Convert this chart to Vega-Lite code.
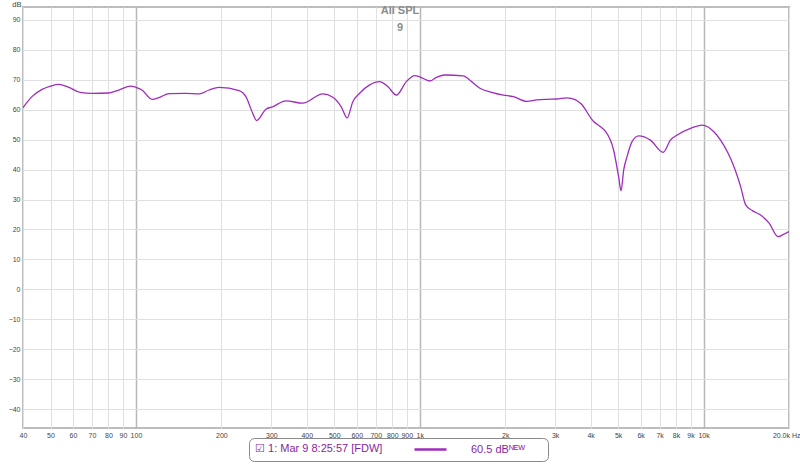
{
  "$schema": "https://vega.github.io/schema/vega-lite/v6.json",
  "width": 766,
  "height": 421,
  "autosize": {"type": "none"},
  "padding": {"left": 23, "top": 7, "right": 11, "bottom": 38},
  "background": "white",
  "config": {
    "view": {"stroke": "#bdbdbd", "strokeWidth": 2},
    "font": "Liberation Sans"
  },
  "title": {
    "text": "All SPL",
    "subtitle": "9",
    "anchor": "middle",
    "frame": "group",
    "offset": -33,
    "dx": -6,
    "font": "Liberation Sans",
    "fontSize": 11,
    "fontWeight": "bold",
    "color": "#8c8c8c",
    "subtitleFont": "Liberation Sans",
    "subtitleFontSize": 11,
    "subtitleFontWeight": "bold",
    "subtitleColor": "#8c8c8c",
    "subtitlePadding": 6
  },
  "data": {
    "values": [
      {"f": 40, "db": 60.6}, {"f": 43, "db": 64.3}, {"f": 46.7, "db": 66.7}, {"f": 50, "db": 67.8},
      {"f": 53.4, "db": 68.4}, {"f": 58, "db": 67.4}, {"f": 63.7, "db": 65.7}, {"f": 70, "db": 65.4},
      {"f": 80.3, "db": 65.5}, {"f": 87, "db": 66.5}, {"f": 95.8, "db": 67.8}, {"f": 100, "db": 67.4},
      {"f": 105, "db": 66.5}, {"f": 114, "db": 63.4}, {"f": 120.6, "db": 64.0}, {"f": 131, "db": 65.3},
      {"f": 150, "db": 65.4}, {"f": 167, "db": 65.2}, {"f": 181, "db": 66.5}, {"f": 196, "db": 67.4},
      {"f": 231, "db": 66.3}, {"f": 244, "db": 64.3}, {"f": 258, "db": 58.7}, {"f": 266, "db": 56.3},
      {"f": 287, "db": 60.1}, {"f": 303, "db": 60.9}, {"f": 338, "db": 62.9}, {"f": 387, "db": 62.1},
      {"f": 455, "db": 65.2}, {"f": 494, "db": 64.1}, {"f": 529, "db": 60.9}, {"f": 555, "db": 57.2},
      {"f": 581, "db": 62.6}, {"f": 614, "db": 65.4}, {"f": 666, "db": 68.2}, {"f": 722, "db": 69.3},
      {"f": 773, "db": 67.6}, {"f": 827, "db": 64.8}, {"f": 897, "db": 69.3}, {"f": 960, "db": 71.3},
      {"f": 1000, "db": 70.9}, {"f": 1085, "db": 69.5}, {"f": 1146, "db": 70.7}, {"f": 1225, "db": 71.5},
      {"f": 1422, "db": 71.2}, {"f": 1523, "db": 69.3}, {"f": 1629, "db": 67.1}, {"f": 1792, "db": 65.7},
      {"f": 1970, "db": 64.8}, {"f": 2137, "db": 64.3}, {"f": 2382, "db": 62.7}, {"f": 2585, "db": 63.2},
      {"f": 2804, "db": 63.4}, {"f": 3041, "db": 63.5}, {"f": 3299, "db": 63.9}, {"f": 3529, "db": 63.3},
      {"f": 3700, "db": 61.9}, {"f": 4097, "db": 56.0}, {"f": 4325, "db": 54.3}, {"f": 4505, "db": 52.8},
      {"f": 4819, "db": 46.5}, {"f": 5020, "db": 37.6}, {"f": 5120, "db": 32.9}, {"f": 5230, "db": 39.8},
      {"f": 5375, "db": 44.3}, {"f": 5598, "db": 49.3}, {"f": 5907, "db": 51.2}, {"f": 6496, "db": 49.8},
      {"f": 7205, "db": 45.7}, {"f": 7645, "db": 49.8}, {"f": 8073, "db": 51.5}, {"f": 8995, "db": 53.7},
      {"f": 9894, "db": 54.8}, {"f": 10870, "db": 52.6}, {"f": 11480, "db": 49.8}, {"f": 12800, "db": 40.9},
      {"f": 13510, "db": 34.3}, {"f": 14070, "db": 28.2}, {"f": 14860, "db": 26.3}, {"f": 15890, "db": 24.8},
      {"f": 17020, "db": 22.1}, {"f": 18300, "db": 17.6}, {"f": 18970, "db": 18.2}, {"f": 20000, "db": 19.3}
    ]
  },
  "mark": {"type": "line", "interpolate": "monotone", "strokeWidth": 1.3, "clip": true},
  "encoding": {
    "x": {
      "field": "f",
      "type": "quantitative",
      "scale": {"type": "log", "domain": [40, 20000], "nice": false},
      "axis": {
        "title": null,
        "values": [40, 50, 60, 70, 80, 90, 100, 200, 300, 400, 500, 600, 700, 800, 900, 1000, 2000, 3000, 4000, 5000, 6000, 7000, 8000, 9000, 10000, 20000],
        "labelExpr": "datum.value >= 20000 ? '20.0k Hz' : (datum.value >= 1000 ? (datum.value / 1000) + 'k' : datum.value + '')",
        "ticks": false,
        "domain": false,
        "labelFont": "Liberation Sans",
        "labelFontSize": 7,
        "labelColor": "#444444",
        "labelPadding": 3,
        "labelOverlap": false,
        "labelFlush": false,
        "labelBound": false,
        "labelAlign": {"condition": {"test": "datum.value >= 20000", "value": "right"}, "value": "center"},
        "labelOffset": {"condition": {"test": "datum.value >= 20000", "value": 11}, "value": 0},
        "gridColor": {"condition": {"test": "datum.value == 100 || datum.value == 1000 || datum.value == 10000", "value": "#b8b8b8"}, "value": "#e0e0e0"},
        "gridWidth": {"condition": {"test": "datum.value == 100 || datum.value == 1000 || datum.value == 10000", "value": 1.5}, "value": 1}
      }
    },
    "y": {
      "field": "db",
      "type": "quantitative",
      "scale": {"domain": [-46.17, 94.17], "nice": false, "zero": false},
      "axis": {
        "values": [-40, -30, -20, -10, 0, 10, 20, 30, 40, 50, 60, 70, 80, 90],
        "ticks": false,
        "domain": false,
        "gridColor": "#e0e0e0",
        "labelFont": "Liberation Sans",
        "labelFontSize": 7,
        "labelColor": "#444444",
        "labelPadding": 3,
        "labelOverlap": false,
        "title": "dB",
        "titleAngle": 0,
        "titleAlign": "right",
        "titleBaseline": "alphabetic",
        "titleX": -2,
        "titleY": -1,
        "titleFont": "Liberation Sans",
        "titleFontSize": 7.5,
        "titleFontWeight": "normal",
        "titleColor": "#444444"
      }
    },
    "color": {
      "datum": "60.5 dB",
      "type": "nominal",
      "scale": {"range": ["#9f2cbd"]},
      "legend": {
        "orient": "none",
        "legendX": 226,
        "legendY": 431,
        "direction": "horizontal",
        "title": "☑ 1: Mar 9 8:25:57 [FDW]",
        "titleOrient": "left",
        "titleFont": "Liberation Sans",
        "titleFontSize": 11,
        "titleFontWeight": "normal",
        "titleColor": "#8a1f9c",
        "titlePadding": 42,
        "symbolType": "M-4,0H4",
        "symbolSize": 64,
        "symbolStrokeWidth": 2.5,
        "symbolStrokeColor": "#82168f",
        "labelFont": "Liberation Sans",
        "labelFontSize": 11,
        "labelColor": "#8a1f9c",
        "labelOffset": 35,
        "labelExpr": "datum.label + 'ᴺᴱᵂ\\u2800\\u2800'",
        "padding": 6,
        "strokeColor": "#8a8a8a",
        "cornerRadius": 5,
        "fillColor": "white"
      }
    }
  }
}
